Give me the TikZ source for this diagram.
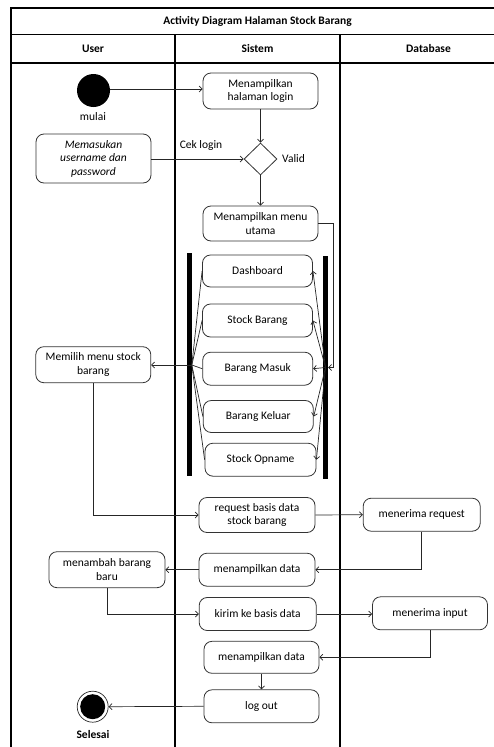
\documentclass[tikz,border=0pt]{standalone}
\usepackage{fontspec}
\setmainfont{Carlito}
\usetikzlibrary{arrows.meta,shapes.geometric}
\newcommand\dgfont{\fontsize{11.5}{13.5}\selectfont}
\begin{document}
\begin{tikzpicture}[x=1pt,y=-1pt,
  act/.style={draw=black!80, line width=0.8pt, rounded corners=8pt,
    minimum width=115pt, minimum height=34pt, align=center, inner sep=1pt, font=\dgfont},
  flow/.style={draw=black!85, line width=0.7pt, -{Straight Barb[length=3pt,width=6pt]}},
  link/.style={draw=black!85, line width=0.7pt},
  frame/.style={line width=1.6pt},
  bar/.style={fill=black, inner sep=0pt, minimum width=5pt},
  lbl/.style={font=\dgfont, inner sep=0pt},
]
\useasboundingbox (0,0) rectangle (494,747);
\clip (0,0) rectangle (494,747);

% swimlane frame
\draw[frame] (11,760) -- (11,8) -- (520,8);
\draw[frame] (11,34.5) -- (520,34.5);
\draw[frame] (11,63) -- (520,63);
\draw[frame] (175,34.5) -- (175,760);
\draw[frame] (340,34.5) -- (340,760);
\node[lbl, font=\dgfont\bfseries] (title) at (257.5,21) {Activity Diagram Halaman Stock Barang};
\node[lbl, font=\dgfont\bfseries] (huser) at (93,49) {User};
\node[lbl, font=\dgfont\bfseries] (hsys) at (257.5,49) {Sistem};
\node[lbl, font=\dgfont\bfseries] (hdb) at (428.5,49) {Database};

% start and end
\node[circle, fill=black, minimum size=33pt, inner sep=0pt] (start) at (93.5,90.5) {};
\node[lbl] (startlbl) at (93,117) {mulai};
\node[circle, draw=black!85, line width=0.7pt, minimum size=31pt, inner sep=0pt] (stop) at (92.7,706.7) {};
\node[circle, fill=black, minimum size=25pt, inner sep=0pt] (stopdot) at (stop.center) {};
\node[lbl, font=\dgfont\bfseries] (stoplbl) at (93,734.5) {Selesai};

% activities
\node[act, minimum height=36pt] (login) at (260.5,91) {Menampilkan\\halaman login};
\node[act, minimum height=49pt, font=\dgfont\itshape] (input) at (93.5,158.5) {Memasukan\\username dan\\password};
\node[diamond, draw=black!80, line width=0.8pt, minimum width=33pt, minimum height=32pt, inner sep=0pt] (cek) at (260.5,159) {};
\node[lbl, anchor=south] (ceklbl) at (201,151) {Cek login};
\node[lbl, anchor=west] (valid) at (282,159) {Valid};
\node[act, minimum height=35pt] (menu) at (260.5,223.5) {Menampilkan menu\\utama};

\node[bar, minimum height=223pt] (lbar) at (189.3,364.3) {};
\node[bar, minimum height=223pt] (rbar) at (325.5,367.5) {};
\node[act, minimum width=110pt, minimum height=32pt] (dash) at (257.5,271) {Dashboard};
\node[act, minimum width=110pt, minimum height=33pt] (stock) at (257.5,320.5) {Stock Barang};
\node[act, minimum width=110pt, minimum height=33pt] (masuk) at (257.7,368.7) {Barang Masuk};
\node[act, minimum width=110pt, minimum height=32pt] (keluar) at (258.3,416.5) {Barang Keluar};
\node[act, minimum width=111pt, minimum height=33pt] (opname) at (260.5,459.7) {Stock Opname};

\node[act, minimum height=36pt] (pilih) at (93.3,364.7) {Memilih menu stock\\barang};
\node[act, minimum width=116pt, minimum height=35pt] (request) at (257,515) {request basis data\\stock barang};
\node[act, minimum width=117pt, minimum height=33pt] (terima) at (421.7,514.7) {menerima request};
\node[act, minimum width=116pt, minimum height=33pt] (tampil) at (257,569.7) {menampilkan data};
\node[act, minimum width=116pt, minimum height=36pt] (tambah) at (107,569.7) {menambah barang\\baru};
\node[act, minimum width=117pt, minimum height=33pt] (kirim) at (257.7,614) {kirim ke basis data};
\node[act, minimum width=115pt, minimum height=33pt] (terimain) at (430,613.3) {menerima input};
\node[act, minimum width=115pt, minimum height=32pt] (tampil2) at (261.5,657.3) {menampilkan data};
\node[act, minimum width=115pt, minimum height=33pt] (logout) at (261.5,706.3) {log out};

% fork / join points on the bars
\coordinate (fork) at (rbar.center);
\coordinate (join) at (191.8,365);
\coordinate (menubend) at (333.5,223.5);

% connectors
\draw[flow] (start.east |- 0,89) -- (login.west |- 0,89);
\draw[flow] (login) -- (cek.north);
\draw[flow] (input.east |- cek.west) -- (cek.west);
\draw[flow] (cek.south) -- (menu.north);
\draw[flow] (menu.east) -- (menubend) |- (rbar.east);

\foreach \n in {dash,stock,masuk,keluar,opname}{
  \draw[flow] (fork) -- (\n.east);
  \draw[link] (\n.west) -- (join);
}
\draw[flow] (join) -- (pilih.east |- join);

\draw[flow] (pilih.south) |- (request.west);
\draw[flow] (request.east) -- (terima.west);
\draw[flow] (terima.south) |- (tampil.east);
\draw[flow] (tampil.west) -- (tambah.east);
\draw[flow] (tambah.south) |- (kirim.west);
\draw[flow] (kirim.east) -- (terimain.west |- kirim.east);
\draw[flow] (terimain.south) |- (tampil2.east);
\draw[flow] (tampil2.south) -- (logout.north);
\draw[flow] (logout.west) -- (stop.east);
\end{tikzpicture}
\end{document}
